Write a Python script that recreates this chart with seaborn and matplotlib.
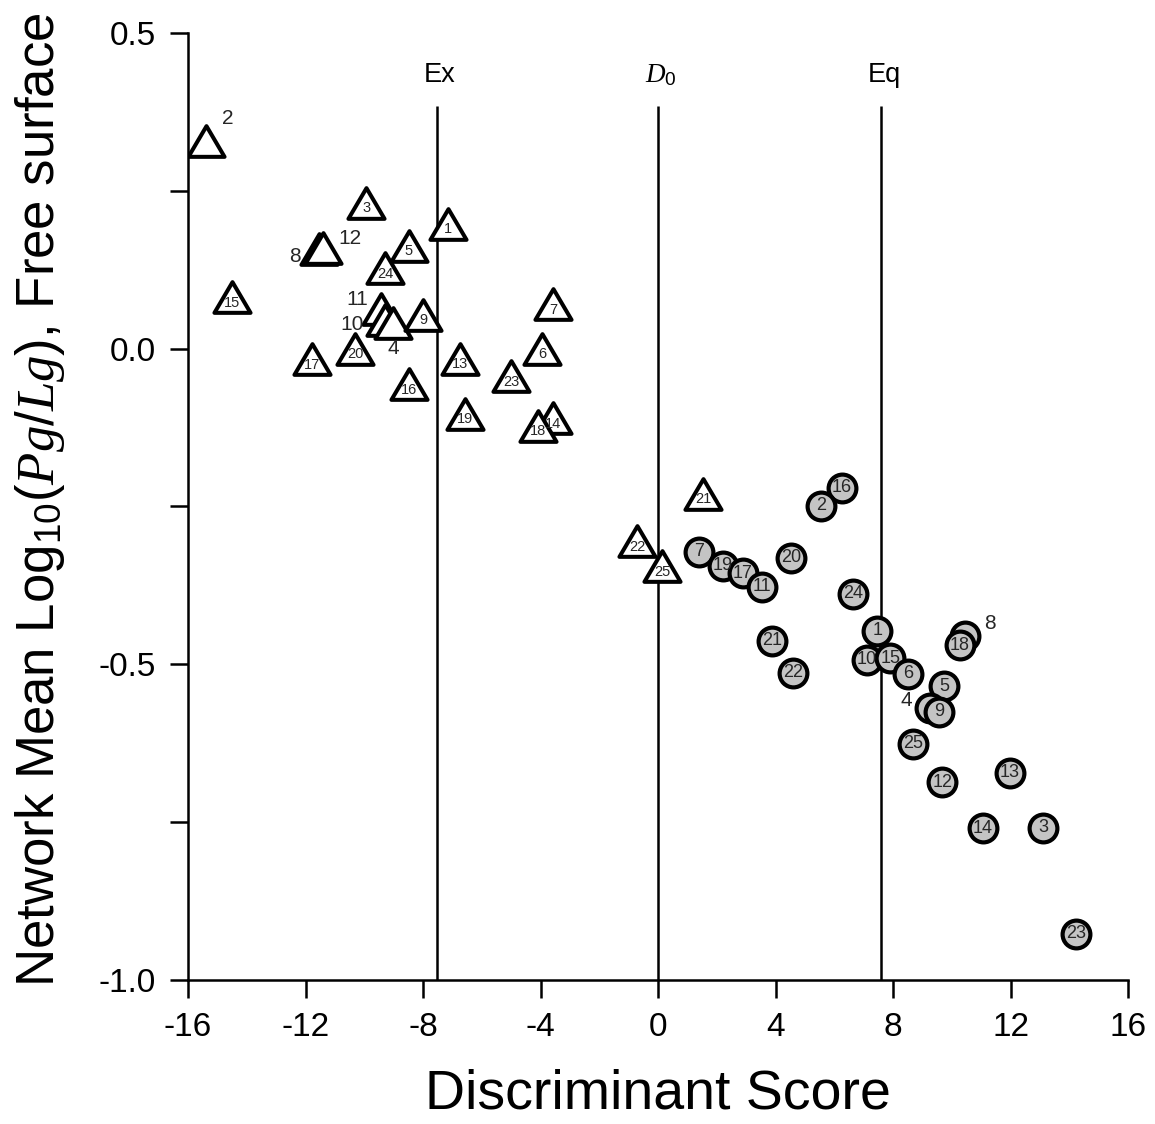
import matplotlib
matplotlib.use("Agg")
import matplotlib.pyplot as plt
from matplotlib.path import Path
import seaborn as sns
import pandas as pd

# ---------------- data ----------------
ex_id = [2, 3, 1, 8, 12, 5, 24, 15, 11, 10, 4, 9, 20, 17, 16, 13, 19, 7, 6, 23, 14, 18, 21, 22, 25]
ex_score = [-15.39, -9.94, -7.15, -11.55, -11.40, -8.48, -9.29, -14.50, -9.43, -9.30, -9.02, -8.00,
            -10.31, -11.78, -8.48, -6.74, -6.57, -3.57, -3.95, -5.00, -3.57, -4.09, 1.53, -0.71, 0.14]
ex_logr = [0.329, 0.231, 0.198, 0.158, 0.160, 0.163, 0.127, 0.081, 0.062, 0.045, 0.041, 0.054,
           0.000, -0.017, -0.056, -0.016, -0.103, 0.070, 0.000, -0.044, -0.110, -0.122, -0.230, -0.305, -0.345]

eq_id = [7, 19, 17, 11, 20, 16, 2, 24, 21, 22, 1, 10, 15, 6, 8, 18, 5, 4, 9, 25, 12, 13, 14, 3, 23]
eq_score = [1.40, 2.21, 2.89, 3.54, 4.53, 6.26, 5.55, 6.64, 3.88, 4.60, 7.46, 7.11, 7.90, 8.51,
            10.45, 10.28, 9.74, 9.26, 9.57, 8.68, 9.67, 11.98, 11.06, 13.11, 14.23]
eq_logr = [-0.322, -0.344, -0.356, -0.377, -0.331, -0.220, -0.249, -0.388, -0.463, -0.513, -0.447,
           -0.493, -0.490, -0.515, -0.455, -0.470, -0.535, -0.569, -0.575, -0.626, -0.687, -0.672,
           -0.760, -0.759, -0.927]

line_x = [-7.52, 0.0, 7.59]
line_labels = ["Ex", r"$\mathit{D}_0$", "Eq"]
line_top = 0.385

x_ticks = [-16, -12, -8, -4, 0, 4, 8, 12, 16]
y_ticks = [0.5, 0.0, -0.5, -1.0]
y_minor = [0.25, -0.25, -0.75]

# labels drawn outside their markers (offsets in pixels, ha)
ex_outside = {2: (16, 22, "left"), 8: (-18, -8, "right"), 12: (15, 9, "left"),
              11: (-13, 10, "right"), 10: (-21, -4, "right"), 4: (0, -26, "center")}
eq_outside = {8: (19, 12, "left"), 4: (-18, 7, "right")}

# ---------------- style ----------------
sns.set_theme(style="ticks")
plt.rcParams["font.family"] = ["Liberation Sans", "DejaVu Sans"]
plt.rcParams["mathtext.fontset"] = "custom"
plt.rcParams["mathtext.rm"] = "Liberation Sans"
plt.rcParams["mathtext.it"] = "Liberation Serif:italic"
plt.rcParams["mathtext.bf"] = "Liberation Sans:bold"

fig = plt.figure(figsize=(11.55, 11.24), dpi=100)
ax = fig.add_axes([0.1628, 0.1281, 0.8139, 0.8426])

ex_df = pd.DataFrame({"score": ex_score, "logr": ex_logr, "id": ex_id})
eq_df = pd.DataFrame({"score": eq_score, "logr": eq_logr, "id": eq_id})

tri = Path([(-1.0, -0.85), (1.0, -0.85), (0.0, 0.85), (-1.0, -0.85)],
           [Path.MOVETO, Path.LINETO, Path.LINETO, Path.CLOSEPOLY])

ax.vlines(line_x, -1.0, line_top, colors="black", linewidth=1.8, zorder=1)
for xv, lab in zip(line_x, line_labels):
    ax.text(xv + 0.1, line_top + 0.048, lab, ha="center", va="center", fontsize=19.5, color="black")

sns.scatterplot(data=ex_df, x="score", y="logr", marker=tri, s=26 ** 2,
                color="white", edgecolor="black", linewidth=2.9, ax=ax, zorder=3, legend=False)
sns.scatterplot(data=eq_df, x="score", y="logr", marker="o", s=20 ** 2,
                color="#c4c4c4", edgecolor="black", linewidth=3.0, ax=ax, zorder=3, legend=False)

for i, x, y in zip(ex_id, ex_score, ex_logr):
    if i in ex_outside:
        dx, dy, ha = ex_outside[i]
        ax.annotate(str(i), (x, y), xytext=(dx * 0.72, dy * 0.72), textcoords="offset points",
                    ha=ha, va="center", fontsize=15, zorder=5)
    else:
        ax.annotate(str(i), (x, y), xytext=(0, -4), textcoords="offset points",
                    ha="center", va="center", fontsize=10.5, zorder=5)

for i, x, y in zip(eq_id, eq_score, eq_logr):
    if i in eq_outside:
        dx, dy, ha = eq_outside[i]
        ax.annotate(str(i), (x, y), xytext=(dx * 0.72, dy * 0.72), textcoords="offset points",
                    ha=ha, va="center", fontsize=15, zorder=5)
    else:
        ax.annotate(str(i), (x, y), ha="center", va="center", fontsize=13, zorder=5)

ax.set_xlim(-16, 16)
ax.set_ylim(-1.0, 0.5)
ax.set_xticks(x_ticks)
ax.set_xticklabels([str(t) for t in x_ticks])
ax.set_yticks(y_ticks)
ax.set_yticklabels(["%.1f" % t for t in y_ticks])
ax.set_yticks(y_minor, minor=True)

ax.tick_params(axis="both", which="both", direction="out", length=13, width=1.8,
               color="black", labelsize=24, labelcolor="black", pad=10)
for side in ["top", "right"]:
    ax.spines[side].set_visible(False)
for side in ["left", "bottom"]:
    ax.spines[side].set_linewidth(1.8)
    ax.spines[side].set_color("black")

ax.set_xlabel("Discriminant Score", fontsize=40, color="black", va="center")
ax.set_ylabel(r"Network Mean Log$_{10}$($\mathit{Pg}/\mathit{Lg}$), Free surface",
              fontsize=38, color="black", va="center")
ax.xaxis.set_label_coords(0.5, -0.121)
ax.yaxis.set_label_coords(-0.157, 0.507)
ax.set_facecolor("white")
fig.patch.set_facecolor("white")

fig.savefig("out.png", dpi=100, facecolor="white")
